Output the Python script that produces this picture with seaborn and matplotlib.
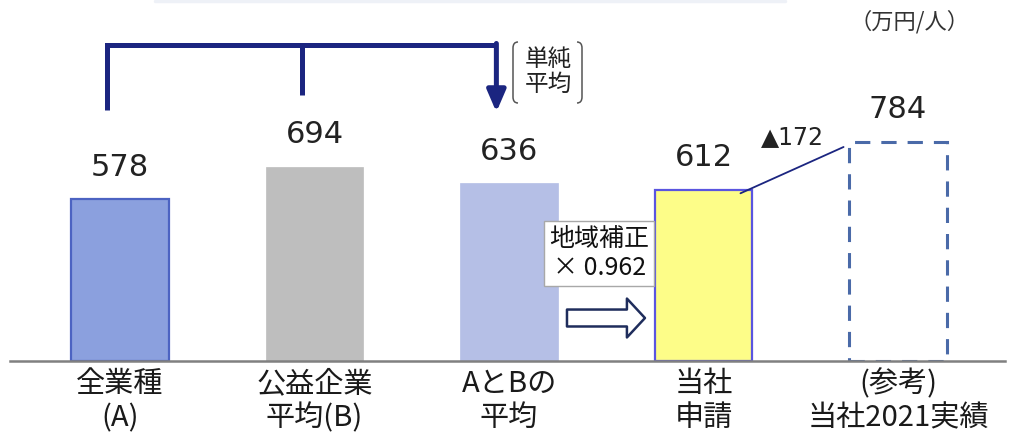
import matplotlib
matplotlib.use("Agg")
import matplotlib.pyplot as plt
from matplotlib.transforms import Affine2D
from matplotlib.path import Path
from matplotlib.patches import PathPatch
import seaborn as sns
import pandas as pd

# --- data -------------------------------------------------------------
categories = ["全業種\n(A)", "公益企業\n平均(B)", "AとBの\n平均", "当社\n申請", "(参考)\n当社2021実績"]
values = [578, 694, 636, 612, 784]
fill_colors = ["#8BA0DE", "#BEBEBE", "#B5BFE6", "#FDFD88", "#FFFFFF"]
edge_colors = ["#4C63C2", "#BEBEBE", "#B5BFE6", "#5A55E0", "#4A6AA8"]
unit_label = "（万円/人）"
avg_label = "単純\n平均"
adjust_label = "地域補正\n× 0.962"

sns.set_theme(style="white")
plt.rcParams["font.family"] = ["Noto Sans CJK JP", "DejaVu Sans"]
num_font = ["DejaVu Sans", "Noto Sans CJK JP"]

W, H = 1012, 438
fig = plt.figure(figsize=(W / 100, H / 100), dpi=100)
base_px = 360.7
ax = fig.add_axes([10 / W, (H - base_px) / H, 995 / W, base_px / H])

df = pd.DataFrame({"cat": categories, "val": values})
sns.barplot(data=df, x="cat", y="val", hue="cat", palette=fill_colors,
            order=categories, hue_order=categories, width=0.5,
            saturation=1, legend=False, ax=ax)

ax.set_xlim(-0.5656, 4.55)
ax.set_ylim(0, base_px / 0.279)

for i, p in enumerate(ax.patches):
    p.set_facecolor(fill_colors[i])
    p.set_edgecolor(edge_colors[i])
    p.set_linewidth(1.6 if i in (0, 3) else 0.5)
    if i == 4:
        p.set_linewidth(2.2)
        p.set_linestyle((0, (5, 3.6)))

for s in ("left", "right", "top"):
    ax.spines[s].set_visible(False)
ax.spines["bottom"].set_color("#808080")
ax.spines["bottom"].set_linewidth(1.8)
ax.set_yticks([])
ax.set_xlabel("")
ax.set_ylabel("")
ax.tick_params(axis="x", length=0, pad=6)
ax.set_xticks(range(len(categories)))
ax.set_xticklabels(categories, fontsize=21, linespacing=1.18, color="#1a1a1a")

# value labels above bars
for i, v in enumerate(values):
    ax.annotate(f"{v}", (i, v), xytext=(0, 17), textcoords="offset points",
                ha="center", va="baseline", fontsize=22, color="#222222",
                family=num_font)

navy = "#1B2580"
# bracket joining A and B into their simple average
top_y = 1131
ax.plot([-0.065, -0.065, 1.935], [899, top_y, top_y], color=navy, lw=3.6,
        solid_joinstyle="miter", solid_capstyle="butt")
ax.plot([0.935, 0.935], [952, top_y], color=navy, lw=3.6, solid_capstyle="butt")
ax.annotate("", xy=(1.935, 891), xytext=(1.935, top_y + 6),
            arrowprops=dict(arrowstyle="-|>,head_length=0.65,head_width=0.28",
                            lw=3.6, color=navy, mutation_scale=20,
                            shrinkA=0, shrinkB=0))

# pixel-based transform for free decorations
pxT = Affine2D().scale(1 / W, -1 / H).translate(0, 1) + fig.transFigure

fig.text(548 / W, 1 - 72 / H, avg_label, ha="center", va="center",
         fontsize=17, linespacing=1.1, color="#222222")
r = 6
lb = Path([(518, 42), (513, 42), (513, 42 + r), (513, 103 - r), (513, 103), (518, 103)],
          [Path.MOVETO, Path.CURVE3, Path.CURVE3, Path.LINETO, Path.CURVE3, Path.CURVE3])
rb = Path([(577, 42), (582, 42), (582, 42 + r), (582, 103 - r), (582, 103), (577, 103)],
          [Path.MOVETO, Path.CURVE3, Path.CURVE3, Path.LINETO, Path.CURVE3, Path.CURVE3])
for pth in (lb, rb):
    fig.add_artist(PathPatch(pth, fill=False, ec="#555555", lw=1.1, transform=pxT))

fig.text(910 / W, 1 - 22 / H, unit_label, ha="center", va="center",
         fontsize=16, color="#333333")

# faint frame edge along the top
fig.add_artist(plt.Line2D([155, 785], [1.2, 1.2], transform=pxT,
                          color="#EEF1F7", lw=2.5))

# regional adjustment note and hollow arrow
ax.text(2.463, 386, adjust_label, ha="center", va="center", fontsize=18,
        linespacing=1.15, color="#111111",
        bbox=dict(boxstyle="square,pad=0.2", fc="white", ec="#A8A8A8", lw=1))
ax.annotate("", xy=(2.699, 153), xytext=(2.298, 153),
            arrowprops=dict(arrowstyle="simple,head_length=1.3,head_width=2.8,tail_width=1.22",
                            fc="white", ec="#1F2D5C", lw=1.8, mutation_scale=10,
                            shrinkA=0, shrinkB=0))

# gap between application and 2021 actual
ax.plot([3.19, 3.72], [600, 766], color=navy, lw=1.3)
ax.text(3.455, 802, f"▲{values[4] - values[3]}", ha="center", va="center",
        fontsize=17, color="#222222", family=num_font)

fig.savefig("out.png", dpi=100, facecolor="white")
